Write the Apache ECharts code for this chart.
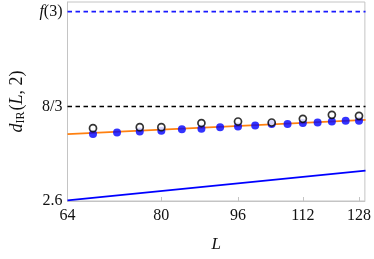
<!DOCTYPE html>
<html>
<head>
<meta charset="utf-8">
<script src="https://cdn.jsdelivr.net/npm/echarts@6/dist/echarts.min.js"></script>
<style>html,body{margin:0;padding:0;background:#fff}#c{width:374px;height:259px}</style>
</head>
<body>
<div id="c"></div>
<script>
// ---- data ----
var xTicks = [64, 80, 96, 112, 128];
var yTickValues = [2.6, 8 / 3, 2.7336];
var yTickLabels = ['2.6', '8/3', '{i|f}(3)'];
var xRange = [64, 129.8];
var yRange = [2.6, 2.7404];

var dotsL = [68, 72, 76, 80, 84, 88, 92, 96, 100, 104, 108, 112, 116, 120, 124, 128];
var dotsY = [2.6472, 2.6483, 2.6490, 2.6495, 2.6507, 2.6510, 2.6521, 2.6526, 2.6533, 2.6543, 2.6543, 2.6550, 2.6554, 2.6561, 2.6566, 2.6566];

var openL = [68, 76, 80, 88, 96, 104, 112, 120, 128];
var openY = [2.6514, 2.6521, 2.6521, 2.6550, 2.6561, 2.6554, 2.6580, 2.6608, 2.6601];

var fitL = [64, 130];
var fitY = [2.6472, 2.6573];

var lowerL = [64, 130];
var lowerY = [2.6004, 2.6214];

var refL = [64, 130];
var refEightThirds = [8 / 3, 8 / 3];
var refF3 = [2.7336, 2.7336];

// ---- helpers ----
function pairs(xs, ys) { return xs.map(function (x, i) { return [Math.log(x), ys[i]]; }); }
var serif = 'Liberation Serif';

var chart = echarts.init(document.getElementById('c'), null, { renderer: 'canvas' });
chart.setOption({
  animation: false,
  backgroundColor: '#fff',
  grid: { left: 67, right: 7, top: 2, bottom: 58, show: true, borderColor: '#c4c4c4', borderWidth: 1, backgroundColor: 'transparent' },
  xAxis: {
    type: 'value',
    min: Math.log(xRange[0]), max: Math.log(xRange[1]),
    name: 'L', nameLocation: 'middle', nameGap: 35,
    nameTextStyle: { fontFamily: serif, fontStyle: 'italic', fontSize: 17, color: '#111' },
    axisLine: { show: true, lineStyle: { color: '#c4c4c4', width: 1 } },
    axisTick: { show: true, inside: true, length: 4, lineStyle: { color: '#c4c4c4' }, customValues: xTicks.map(Math.log) },
    axisLabel: { fontFamily: serif, fontSize: 16, color: '#111', margin: 7, customValues: xTicks.map(Math.log),
      formatter: function (v) { return String(Math.round(Math.exp(v))); } },
    splitLine: { show: false }
  },
  yAxis: {
    type: 'value',
    min: yRange[0], max: yRange[1],
    name: '{i|d}{s|IR}{n|(}{i|L}{n|, 2)}', nameLocation: 'middle', nameGap: 41, nameRotate: 90,
    nameTextStyle: { fontFamily: serif, fontSize: 18, color: '#111',
      rich: {
        i: { fontFamily: serif, fontStyle: 'italic', fontSize: 18, color: '#111' },
        n: { fontFamily: serif, fontSize: 18, color: '#111' },
        s: { fontFamily: serif, fontSize: 12, color: '#111', padding: [7, 1, 0, 0] }
      } },
    axisLine: { show: true, lineStyle: { color: '#c4c4c4', width: 1 } },
    axisTick: { show: false },
    axisLabel: { fontFamily: serif, fontSize: 16, color: '#111', margin: 5, customValues: yTickValues,
      formatter: function (v) {
        for (var k = 0; k < yTickValues.length; k++) { if (Math.abs(v - yTickValues[k]) < 1e-6) return yTickLabels[k]; }
        return '';
      },
      rich: { i: { fontFamily: serif, fontStyle: 'italic', fontSize: 16, color: '#111' } } },
    splitLine: { show: false }
  },
  series: [
    { type: 'line', data: pairs(refL, refF3), symbol: 'none', lineStyle: { color: '#1a1aff', width: 1.7, type: [4.5, 3.5] }, z: 2 },
    { type: 'line', data: pairs(refL, refEightThirds), symbol: 'none', lineStyle: { color: '#000', width: 1.7, type: [4.5, 3.5] }, z: 2 },
    { type: 'line', data: pairs(lowerL, lowerY), symbol: 'none', lineStyle: { color: '#0000ff', width: 1.7 }, z: 2 },
    { type: 'line', data: pairs(fitL, fitY), symbol: 'none', lineStyle: { color: '#ff8010', width: 1.7 }, z: 3 },
    { type: 'scatter', data: pairs(dotsL, dotsY), symbol: 'circle', symbolSize: 8, itemStyle: { color: '#0000ff' }, z: 4 },
    { type: 'scatter', data: pairs(openL, openY), symbol: 'circle', symbolSize: 7, itemStyle: { color: '#fff', borderColor: '#000', borderWidth: 1.7 }, z: 5 }
  ]
});
</script>
</body>
</html>
